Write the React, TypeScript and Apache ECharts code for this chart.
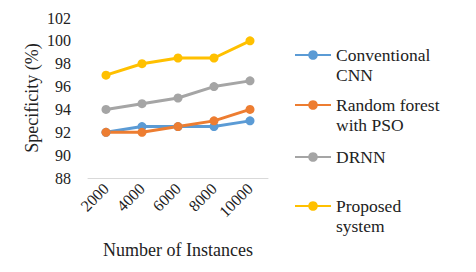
import React, { useEffect, useRef } from "react";
import * as echarts from "echarts";

const categories = ["2000", "4000", "6000", "8000", "10000"];
const conventionalCNN = [92, 92.5, 92.5, 92.5, 93];
const randomForestPSO = [92, 92, 92.5, 93, 94];
const drnn = [94, 94.5, 95, 96, 96.5];
const proposed = [97, 98, 98.5, 98.5, 100];

const seriesNames = ["Conventional CNN", "Random forest with PSO", "DRNN", "Proposed system"];
const legendLabels = ["\nConventional\nCNN", "\nRandom forest\nwith PSO", "DRNN", "\nProposed\nsystem"];
const colors = ["#5B9BD5", "#ED7D31", "#A5A5A5", "#FFC000"];
const seriesData = [conventionalCNN, randomForestPSO, drnn, proposed];

const FONT = "Liberation Serif";

export default function App() {
  const ref = useRef<HTMLDivElement>(null);
  useEffect(() => {
    if (!ref.current) return;
    const chart = echarts.init(ref.current, null, { renderer: "svg" });
    const legendTops = [25, 75, 147, 176];
    const legends = seriesNames.map((name, i) => ({
      orient: "vertical",
      left: 294,
      top: legendTops[i],
      padding: 0,
      itemWidth: 36,
      itemHeight: 12,
      data: [name],
      formatter: () => legendLabels[i],
      textStyle: {
        fontFamily: FONT,
        fontSize: 17.5,
        lineHeight: 20,
        color: "#222",
      },
    }));
    chart.setOption({
      animation: false,
      color: colors,
      textStyle: { fontFamily: FONT },
      grid: { left: 88, right: 208, top: 18, bottom: 94, containLabel: false },
      legend: legends,
      xAxis: {
        type: "category",
        data: categories,
        boundaryGap: true,
        axisTick: { show: false },
        axisLine: { lineStyle: { color: "#D9D9D9", width: 1 } },
        axisLabel: { rotate: 45, fontSize: 16, fontFamily: FONT, color: "#222", margin: 8 },
        name: "Number of Instances",
        nameLocation: "middle",
        nameGap: 63,
        nameTextStyle: { fontSize: 18, fontFamily: FONT, color: "#222" },
      },
      yAxis: {
        type: "value",
        min: 88,
        max: 102,
        interval: 2,
        axisLine: { show: false },
        axisTick: { show: false },
        splitLine: { show: false },
        axisLabel: { fontSize: 16, fontFamily: FONT, color: "#222", margin: 17 },
        name: "Specificity (%)",
        nameLocation: "middle",
        nameGap: 47,
        nameTextStyle: { fontSize: 18, fontFamily: FONT, color: "#222" },
      },
      series: seriesNames.map((name, i) => ({
        name,
        type: "line",
        data: seriesData[i],
        symbol: "circle",
        symbolSize: 9,
        lineStyle: { width: 3, color: colors[i] },
        itemStyle: { color: colors[i] },
      })),
    });
    return () => chart.dispose();
  }, []);
  return <div ref={ref} style={{ width: 476, height: 272, position: "absolute", left: 0, top: 0 }} />;
}
